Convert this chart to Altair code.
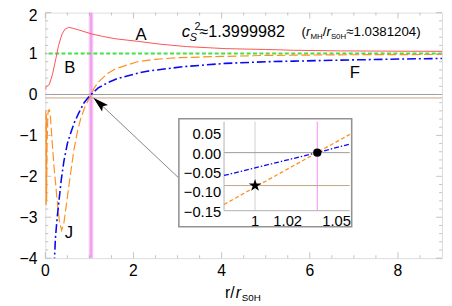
import altair as alt
import pandas as pd

FONT = "Liberation Sans"
W, H = 404, 250
OX, OY = 46, 10  # page position of the plot origin (8px body margin + padding)

# ---------------- data ----------------
red_x = [0.012, 0.015, 0.03, 0.09, 0.16, 0.24, 0.30, 0.38, 0.45, 0.53, 0.62, 0.75, 0.90, 1.05,
         1.30, 1.60, 2.09, 2.60, 3.20, 4.10, 5.00, 5.64, 6.70, 8.00, 9.00]
red_y = [0.12, 0.20, 0.20, 0.24, 0.48, 0.88, 1.20, 1.48, 1.60, 1.64, 1.62, 1.58, 1.53, 1.48,
         1.42, 1.36, 1.30, 1.23, 1.17, 1.12, 1.10, 1.08, 1.065, 1.058, 1.055]

orange_x = [0.005, 0.01, 0.015, 0.02, 0.025, 0.03, 0.04, 0.06, 0.09, 0.12, 0.16, 0.20, 0.27, 0.32,
            0.37, 0.42, 0.46, 0.52, 0.57, 0.65, 0.72, 0.80, 0.90, 1.00, 1.038, 1.10, 1.20, 1.42,
            1.60, 2.09, 2.50, 3.00, 4.00, 5.00, 5.64, 6.70, 8.00, 9.00]
orange_y = [-0.40, -2.70, -0.45, -2.70, -0.50, -2.60, -1.20, -0.45, -0.36, -0.60, -1.24, -1.80,
            -2.60, -3.10, -3.32, -3.15, -2.84, -2.35, -1.95, -1.35, -0.95, -0.60, -0.30, -0.085,
            0.0, 0.14, 0.30, 0.52, 0.63, 0.80, 0.86, 0.90, 0.93, 0.955, 0.96, 0.97, 0.975, 0.978]

blue_x = [0.20, 0.23, 0.27, 0.31, 0.36, 0.42, 0.50, 0.57, 0.66, 0.76, 0.88, 1.00, 1.038, 1.20,
          1.42, 1.64, 2.09, 2.31, 3.13, 4.09, 5.00, 5.64, 6.70, 8.00, 9.00]
blue_y = [-4.20, -3.50, -3.00, -2.60, -2.10, -1.64, -1.20, -0.96, -0.68, -0.45, -0.20, -0.04,
          0.0, 0.16, 0.29, 0.39, 0.52, 0.57, 0.68, 0.76, 0.80, 0.815, 0.84, 0.865, 0.88]

green_level = [1.0]
zero_level = [0.0]
star_level = [-0.085]
r_s0h = [1.0]
r_mh = [1.0381204]

x_ticks = [0, 2, 4, 6, 8]
y_ticks = [-4, -3, -2, -1, 0, 1]
y_top_tick = [2]
x_minor = [0.5, 1, 1.5, 2.5, 3, 3.5, 4.5, 5, 5.5, 6.5, 7, 7.5, 8.5]
y_minor = [-3.8, -3.6, -3.4, -3.2, -2.8, -2.6, -2.4, -2.2, -1.8, -1.6, -1.4, -1.2,
           -0.8, -0.6, -0.4, -0.2, 0.2, 0.4, 0.6, 0.8, 1.2, 1.4, 1.6, 1.8]

curve_labels = ["A", "B", "F", "J"]
label_x = [2.17, 0.556, 7.02, 0.533]
label_y = [1.46, 0.655, 0.52, -3.38]

# inset data
inset_x_domain = [0.981, 1.058]
inset_y_domain = [-0.15, 0.08]
inset_blue_x = [0.981, 1.038, 1.058]
inset_blue_y = [-0.059, 0.0, 0.022]
inset_orange_x = [0.981, 1.0, 1.038, 1.058]
inset_orange_y = [-0.134, -0.089, 0.0, 0.047]
inset_x_ticks = [1, 1.02, 1.05]
inset_x_labels = ["1", "1.02", "1.05"]
inset_y_ticks = [-0.15, -0.10, -0.05, 0.0, 0.05]
star_pt = {"x": [1.0], "y": [-0.085]}
dot_pt = {"x": [1.0381204], "y": [0.0]}

# arrow (main-plot data coordinates)
arrow_tail = (3.022, -2.035)
arrow_head = (1.255, -0.24)

RED = "#ff5252"
ORANGE = "#ff9020"
BLUE = "#0a0af0"
GREEN = "#3ee43e"
GRAY = "#9a9a9a"
BROWN = "#c4a585"
PINK = "#f7c4f4"
MAGENTA = "#ee7cee"
TICK = "#aaaaaa"

STAR_PATH = ("M0,-1L0.2234,-0.3074L0.9511,-0.309L0.3614,0.1174L0.5878,0.809L0,0.38"
             "L-0.5878,0.809L-0.3614,0.1174L-0.9511,-0.309L-0.2234,-0.3074Z")
ARROW_PATH = "M0,-1L0.45,0.6L0,0.3L-0.45,0.6Z"

# inset placement (page pixels)
INSET_BOX = (182, 358, 118, 228)     # x0, x1, y0, y1 of the framed box
INSET_PLOT = (228, 356, 121, 211.7)  # x0, x1, y0(top), y1(bottom) of the inner plot


def num_label(v, fmt="{:g}"):
    return fmt.format(v).replace("-", "\u2212")


# ---------------- main plot ----------------
MAIN_XS = alt.Scale(domain=[0, 9], nice=False, zero=False)
MAIN_YS = alt.Scale(domain=[-4, 2], nice=False, zero=False)


def MX(f="x"):
    return alt.X(f"{f}:Q", scale=MAIN_XS, axis=None, title=None)


def MY(f="y"):
    return alt.Y(f"{f}:Q", scale=MAIN_YS, axis=None, title=None)


dummy = pd.DataFrame({"a": [0]})

vline1 = alt.Chart(pd.DataFrame({"x": r_s0h})).mark_rule(color="#c8c8c8", strokeWidth=1).encode(
    x=MX())
band = alt.Chart(pd.DataFrame({"x": r_mh})).mark_rule(color=PINK, strokeWidth=4.5).encode(
    x=MX())
band_line = alt.Chart(pd.DataFrame({"x": r_mh})).mark_rule(color=MAGENTA, strokeWidth=1).encode(
    x=MX())
zero_rule = alt.Chart(pd.DataFrame({"y": zero_level})).mark_rule(color=GRAY, strokeWidth=1).encode(
    y=MY())
brown_rule = alt.Chart(pd.DataFrame({"y": star_level})).mark_rule(color=BROWN, strokeWidth=1).encode(
    y=MY())
green_rule = alt.Chart(pd.DataFrame({"y": green_level})).mark_rule(
    color=GREEN, strokeWidth=2, strokeDash=[4, 2.5]).encode(y=MY())

red = alt.Chart(pd.DataFrame({"x": red_x, "y": red_y})).mark_line(
    color=RED, strokeWidth=1, clip=True).encode(x=MX(), y=MY())
orange = alt.Chart(pd.DataFrame({"x": orange_x, "y": orange_y})).mark_line(
    color=ORANGE, strokeWidth=1.2, strokeDash=[9, 3.5], clip=True).encode(x=MX(), y=MY())
blue = alt.Chart(pd.DataFrame({"x": blue_x, "y": blue_y})).mark_line(
    color=BLUE, strokeWidth=1.6, strokeDash=[9, 3, 2, 3], clip=True).encode(x=MX(), y=MY())


def vticks(vals, y, size):
    return alt.Chart(pd.DataFrame({"v": vals})).mark_tick(
        orient="vertical", color=TICK, thickness=1, size=size).encode(
        x=MX("v"), y=alt.value(y))


def hticks(vals, x, size):
    return alt.Chart(pd.DataFrame({"v": vals})).mark_tick(
        orient="horizontal", color=TICK, thickness=1, size=size).encode(
        y=MY("v"), x=alt.value(x))


all_y = y_ticks + y_top_tick
ticks = [
    vticks(x_ticks, H - 3, 6), vticks(x_minor, H - 1.5, 3),
    vticks(x_ticks, 3, 6), vticks(x_minor, 1.5, 3),
    hticks(all_y, 3, 6), hticks(y_minor, 1.5, 3),
    hticks(all_y, W - 3, 6), hticks(y_minor, W - 1.5, 3),
]

xlab = alt.Chart(pd.DataFrame({"v": x_ticks, "t": [num_label(v) for v in x_ticks]})).mark_text(
    font=FONT, fontSize=16, color="black", align="center", baseline="alphabetic").encode(
    x=MX("v"), y=alt.value(H + 18), text="t:N")
ylab = alt.Chart(pd.DataFrame({"v": y_ticks, "t": [num_label(v) for v in y_ticks]})).mark_text(
    font=FONT, fontSize=16, color="black", align="right", baseline="middle", dy=1).encode(
    y=MY("v"), x=alt.value(-8), text="t:N")
ylab_top = alt.Chart(pd.DataFrame({"v": y_top_tick, "t": [num_label(v) for v in y_top_tick]})).mark_text(
    font=FONT, fontSize=16, color="black", align="right", baseline="middle", dy=4).encode(
    y=MY("v"), x=alt.value(-8), text="t:N")

labels = alt.Chart(pd.DataFrame({"x": label_x, "y": label_y, "t": curve_labels})).mark_text(
    font=FONT, fontSize=17, color="black", align="center", baseline="middle").encode(
    x=MX(), y=MY(), text="t:N")

arrow_line = alt.Chart(pd.DataFrame({"x": [arrow_tail[0]], "y": [arrow_tail[1]],
                                     "x2": [arrow_head[0]], "y2": [arrow_head[1]]})).mark_rule(
    color="#666666", strokeWidth=0.8).encode(x=MX(), y=MY(), x2="x2:Q", y2="y2:Q")
arrow_tip = alt.Chart(pd.DataFrame({"x": [arrow_head[0]], "y": [arrow_head[1]]})).mark_point(
    shape=ARROW_PATH, filled=True, color="black", opacity=1,
    size=400, angle=311.7).encode(x=MX(), y=MY())


def txt(s, px, py, size, italic=False):
    """text placed at page pixel (px, py), baseline alphabetic, left aligned"""
    kw = dict(font=FONT, fontSize=size, color="black", align="left", baseline="alphabetic")
    if italic:
        kw["fontStyle"] = "italic"
    return alt.Chart(dummy).mark_text(text=s, **kw).encode(
        x=alt.value(px - OX), y=alt.value(py - OY))


texts = [
    txt("c", 185, 35, 17, True), txt("S", 193, 39, 11, True), txt("2", 198, 28, 11),
    txt("\u22481.3999982", 203, 35, 16.5),
    txt("(", 307, 33.5, 13.5), txt("r", 311.5, 33.5, 13.5, True), txt("MH", 316, 36.5, 8),
    txt("/", 328.5, 33.5, 13.5), txt("r", 332.3, 33.5, 13.5, True), txt("S0H", 336.8, 36.5, 8),
    txt("\u22481.0381204)", 352.5, 33.5, 13.5),
    txt("r/", 229, 301, 16), txt("r", 240, 301, 16, True), txt("S0H", 246, 304, 10),
]

main = alt.layer(vline1, band, band_line, zero_rule, brown_rule, green_rule,
                 red, orange, blue, *ticks, xlab, ylab, ylab_top, labels, arrow_line, arrow_tip,
                 *texts)

# ---------------- inset ----------------
# The inset scales keep the default full-view range; their domains are widened so that the
# inset's own axis window [inset_x_domain] x [inset_y_domain] lands on the inner inset frame.
bx0, bx1, by0, by1 = INSET_BOX
px0, px1, py0, py1 = INSET_PLOT
kx = (px1 - px0) / (inset_x_domain[1] - inset_x_domain[0])      # px per unit
ky = (py1 - py0) / (inset_y_domain[1] - inset_y_domain[0])
ix_full = [inset_x_domain[0] - (px0 - OX) / kx, inset_x_domain[0] + (W - (px0 - OX)) / kx]
iy_full = [inset_y_domain[0] - (H - (py1 - OY)) / ky, inset_y_domain[0] + (py1 - OY) / ky]
INSET_XS = alt.Scale(domain=ix_full, nice=False, zero=False)
INSET_YS = alt.Scale(domain=iy_full, nice=False, zero=False)


def IX(f="x"):
    return alt.X(f"{f}:Q", scale=INSET_XS, axis=None, title=None)


def IY(f="y"):
    return alt.Y(f"{f}:Q", scale=INSET_YS, axis=None, title=None)


box = alt.Chart(dummy).mark_rect(fill="white", stroke="#939393", strokeWidth=1.6).encode(
    x=alt.value(bx0 - OX), x2=alt.value(bx1 - OX), y=alt.value(by0 - OY), y2=alt.value(by1 - OY))

lo_y, hi_y = inset_y_domain
lo_x, hi_x = inset_x_domain

i_v1 = alt.Chart(pd.DataFrame({"x": r_s0h, "lo": [lo_y], "hi": [hi_y]})).mark_rule(
    color="#d0d0d0", strokeWidth=1).encode(x=IX(), y=IY("lo"), y2="hi:Q")
i_v2 = alt.Chart(pd.DataFrame({"x": r_mh, "lo": [lo_y], "hi": [hi_y]})).mark_rule(
    color="#ff88ff", strokeWidth=1).encode(x=IX(), y=IY("lo"), y2="hi:Q")
i_h0 = alt.Chart(pd.DataFrame({"y": zero_level, "lo": [lo_x], "hi": [hi_x]})).mark_rule(
    color=GRAY, strokeWidth=1).encode(y=IY(), x=IX("lo"), x2="hi:Q")
i_hb = alt.Chart(pd.DataFrame({"y": star_level, "lo": [lo_x], "hi": [hi_x]})).mark_rule(
    color=BROWN, strokeWidth=1).encode(y=IY(), x=IX("lo"), x2="hi:Q")
i_left = alt.Chart(pd.DataFrame({"x": [lo_x], "lo": [lo_y], "hi": [hi_y]})).mark_rule(
    color="#b0b0b0", strokeWidth=1).encode(x=IX(), y=IY("lo"), y2="hi:Q")
i_bottom = alt.Chart(pd.DataFrame({"y": [lo_y], "lo": [lo_x], "hi": [hi_x]})).mark_rule(
    color="#b0b0b0", strokeWidth=1).encode(y=IY(), x=IX("lo"), x2="hi:Q")
i_blue = alt.Chart(pd.DataFrame({"x": inset_blue_x, "y": inset_blue_y})).mark_line(
    color=BLUE, strokeWidth=1.3, strokeDash=[5, 2, 1.5, 2]).encode(x=IX(), y=IY())
i_orange = alt.Chart(pd.DataFrame({"x": inset_orange_x, "y": inset_orange_y})).mark_line(
    color=ORANGE, strokeWidth=1.3, strokeDash=[4, 2.5]).encode(x=IX(), y=IY())
i_star = alt.Chart(pd.DataFrame(star_pt)).mark_point(
    shape=STAR_PATH, filled=True, color="black", opacity=1, size=180).encode(x=IX(), y=IY())
i_dot = alt.Chart(pd.DataFrame(dot_pt)).mark_point(
    shape="circle", filled=True, color="black", opacity=1, size=70).encode(x=IX(), y=IY())
i_xlab = alt.Chart(pd.DataFrame({"v": inset_x_ticks, "t": inset_x_labels})).mark_text(
    font=FONT, fontSize=15, color="black", align="center", baseline="alphabetic").encode(
    x=IX("v"), y=alt.value(227 - OY), text="t:N")
i_ylab = alt.Chart(pd.DataFrame({"v": inset_y_ticks,
                                 "t": [num_label(v, "{:.2f}") for v in inset_y_ticks]})).mark_text(
    font=FONT, fontSize=15, color="black", align="right", baseline="middle", dy=1).encode(
    y=IY("v"), x=alt.value(px0 - 3 - OX), text="t:N")

inset = alt.layer(box, i_xlab, i_ylab, i_v1, i_v2, i_h0, i_hb, i_left, i_bottom,
                  i_blue, i_orange, i_star, i_dot)

chart = alt.layer(main, inset).resolve_scale(x="independent", y="independent").properties(
    width=W, height=H,
    autosize=alt.AutoSizeParams(type="none"),
    padding={"left": OX - 8, "top": OY - 8, "right": 2, "bottom": 46},
).configure_view(stroke="#bdbdbd", strokeWidth=1).configure(font=FONT)

chart.save("out.html", embed_options={"renderer": "svg", "actions": False})
